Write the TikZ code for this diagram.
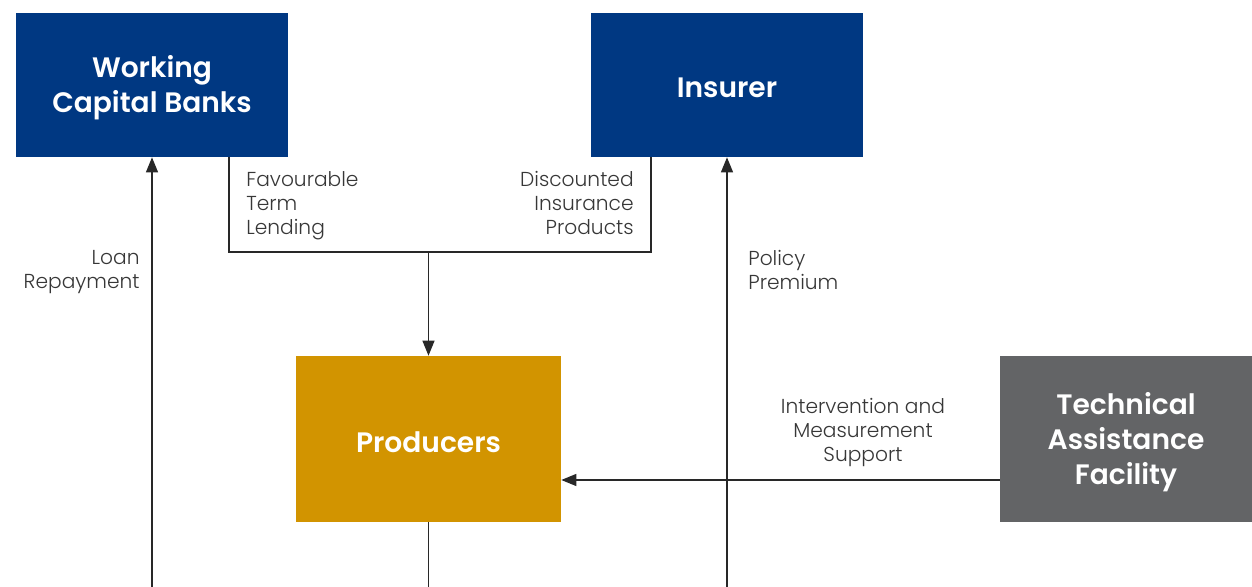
\documentclass[tikz,border=0pt]{standalone}
\usepackage{fontspec}
\setmainfont{Poppins}[UprightFont={* Light}, BoldFont={* SemiBold}]
\usetikzlibrary{positioning,arrows.meta}
\definecolor{bankblue}{RGB}{0,56,130}
\definecolor{prodgold}{RGB}{210,148,0}
\definecolor{facgrey}{RGB}{99,100,102}
\definecolor{linegrey}{RGB}{40,40,40}
\definecolor{textgrey}{RGB}{55,55,55}

\begin{document}
\begin{tikzpicture}[x=0.02cm, y=-0.02cm,
    arrowstyle/.style={draw=linegrey, line width=0.7pt, -{Triangle[length=3mm,width=2.4mm]}},
    linkstyle/.style={draw=linegrey, line width=0.7pt},
    party/.style={rectangle, inner sep=0pt},
    partytext/.style={text=white, align=center, inner sep=0pt, yshift=-0.06cm,
        font=\fontsize{16}{19.8}\selectfont\bfseries},
    flow/.style={text=textgrey, inner sep=0pt,
        font=\fontsize{11.5}{13.6}\selectfont}
]
\useasboundingbox (0,0) rectangle (1252,587);
\coordinate (bottom) at (0,587);
\coordinate (bracketleft) at (229,252);
\coordinate (bracketright) at (651,252);

\node (Banks) [party, fill=bankblue, minimum width=5.44cm, minimum height=2.88cm] at (152,85) {};
\node (Insurer) [party, fill=bankblue, minimum width=5.44cm, minimum height=2.88cm] at (727,85) {};
\node (Producers) [party, fill=prodgold, minimum width=5.3cm, minimum height=3.32cm] at (428.5,439) {};
\node (Facility) [party, fill=facgrey, minimum width=5.04cm, minimum height=3.32cm] at (1126,439) {};

\node (BanksName) [partytext] at (Banks) {Working\\Capital Banks};
\node (InsurerName) [partytext] at (Insurer) {Insurer};
\node (ProducersName) [partytext] at (Producers) {Producers};
\node (FacilityName) [partytext] at (Facility) {Technical\\Assistance\\Facility};

% flows
\draw [arrowstyle] (Banks.south |- bottom) -- (Banks.south);
\draw [arrowstyle] (Insurer.south |- bottom) -- (Insurer.south);
\draw [linkstyle] (Producers.south) -- (Producers.south |- bottom);
\draw [linkstyle] (bracketleft |- Banks.south) -- (bracketleft) -- (bracketright)
  -- (bracketright |- Insurer.south);
\draw [arrowstyle] (Producers.north |- bracketleft) -- (Producers.north);
\draw [arrowstyle] ([yshift=-0.82cm]Facility.west) -- ([yshift=-0.82cm]Producers.east);

% labels
\node (LoanText) [flow, align=right, anchor=north east] at (140,250) {Loan\\Repayment};
\node (LendText) [flow, align=left, anchor=north west] at (246,171) {Favourable\\Term\\Lending};
\node (DiscText) [flow, align=right, anchor=north east] at (634,171) {Discounted\\Insurance\\Products};
\node (PremText) [flow, align=left, anchor=north west] at (748,250) {Policy\\Premium};
\node (SuppText) [flow, align=center, anchor=north] at (863,398) {Intervention and\\Measurement\\Support};
\end{tikzpicture}
\end{document}
